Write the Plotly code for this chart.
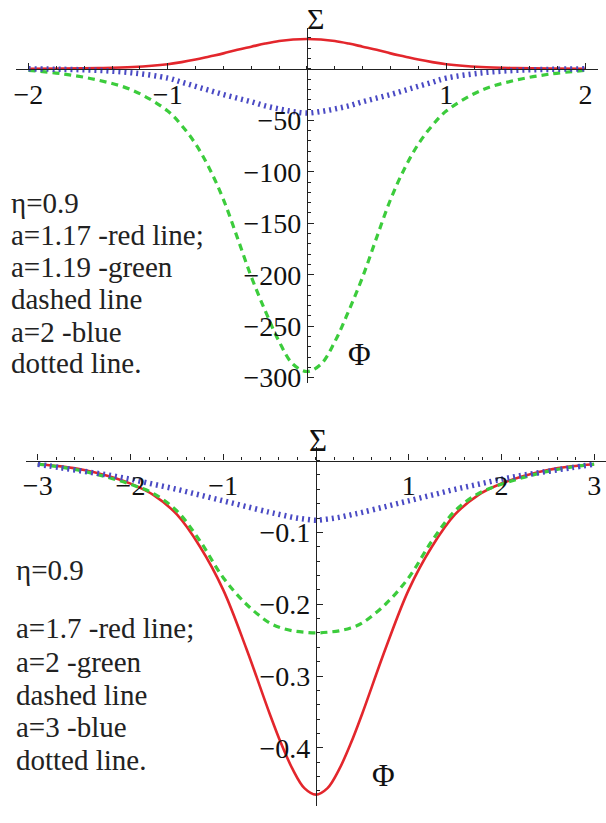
import plotly.graph_objects as go

# ---- upper panel: eta=0.9, a=1.17 / 1.19 / 2 ----
top_phi = [-2, -1.75, -1.5, -1.25, -1, -0.9, -0.8, -0.7, -0.6, -0.5, -0.4, -0.3, -0.2, -0.1, 0,
           0.1, 0.2, 0.3, 0.4, 0.5, 0.6, 0.7, 0.8, 0.9, 1, 1.25, 1.5, 1.75, 2]
top_red = [0, 0.2, 0.7, 1.8, 4.5, 6.5, 9, 12, 15, 18.5, 21.5, 24.5, 27, 28.5, 29,
           28.5, 27, 24.5, 21.5, 18.5, 15, 12, 9, 6.5, 4.5, 1.8, 0.7, 0.2, 0]
top_green = [-1.5, -5, -11, -21, -41, -55, -73, -97, -127, -164, -202, -235, -265, -287, -294,
             -287, -265, -235, -202, -164, -127, -97, -73, -55, -41, -21, -11, -5, -1.5]
top_blue = [0, -0.5, -1.5, -4, -9, -13, -17, -21, -25, -28.5, -32, -36, -39, -41.5, -43,
            -41.5, -39, -36, -32, -28.5, -25, -21, -17, -13, -9, -4, -1.5, -0.5, 0]

top_xticks = [-2, -1, 1, 2]
top_xlabels = ["\u22122", "\u22121", "1", "2"]
top_yticks = [-300, -250, -200, -150, -100, -50]
top_ylabels = ["\u2212300", "\u2212250", "\u2212200", "\u2212150", "\u2212100", "\u221250"]
top_text = ["\u03b7=0.9", "a=1.17 -red line;", "a=1.19 -green", "dashed line",
            "a=2 -blue", "dotted line."]

# ---- lower panel: eta=0.9, a=1.7 / 2 / 3 ----
bot_phi = [-3, -2.75, -2.5, -2.25, -2, -1.75, -1.5, -1.25, -1, -0.75, -0.5, -0.375, -0.25, -0.125, 0,
           0.125, 0.25, 0.375, 0.5, 0.75, 1, 1.25, 1.5, 1.75, 2, 2.25, 2.5, 2.75, 3]
bot_red = [-0.005, -0.008, -0.013, -0.021, -0.032, -0.048, -0.075, -0.12, -0.18, -0.262, -0.352, -0.394, -0.43, -0.456, -0.465,
           -0.456, -0.43, -0.394, -0.352, -0.262, -0.18, -0.12, -0.075, -0.048, -0.032, -0.021, -0.013, -0.008, -0.005]
bot_green = [-0.005, -0.009, -0.015, -0.023, -0.033, -0.046, -0.07, -0.112, -0.163, -0.2, -0.226, -0.233, -0.237, -0.239, -0.24,
             -0.239, -0.237, -0.233, -0.226, -0.2, -0.163, -0.112, -0.07, -0.046, -0.033, -0.023, -0.015, -0.009, -0.005]
bot_blue = [-0.005, -0.01, -0.015, -0.02, -0.026, -0.033, -0.04, -0.048, -0.056, -0.064, -0.072, -0.0755, -0.079, -0.0815, -0.083,
            -0.0815, -0.079, -0.0755, -0.072, -0.064, -0.056, -0.048, -0.04, -0.033, -0.026, -0.02, -0.015, -0.01, -0.005]

bot_xticks = [-3, -2, -1, 1, 2, 3]
bot_xlabels = ["\u22123", "\u22122", "\u22121", "1", "2", "3"]
bot_yticks = [-0.4, -0.3, -0.2, -0.1]
bot_ylabels = ["\u22120.4", "\u22120.3", "\u22120.2", "\u22120.1"]
bot_text = ["\u03b7=0.9", "a=1.7 -red line;", "a=2 -green", "dashed line",
            "a=3 -blue", "dotted line."]

W, H = 606, 823
SERIF = "Liberation Serif"
RED, GREEN, BLUE = "#e3262c", "#3ccc3c", "#4a4ac4"

# panel geometry (paper fractions)
top_xrange, top_yrange = [-2.09, 2.09], [-305, 40]
top_xdom, top_ydom = [13 / W, 598 / W], [1 - 388 / H, 1 - 28 / H]
bot_xrange, bot_yrange = [-3.128, 3.128], [-0.481, 0.019]
bot_xdom, bot_ydom = [23 / W, 1.0], [1 - 817 / H, 1 - 453 / H]


def zero_pos(dom, rng):
    # paper position of the data value 0 along an axis
    return dom[0] + (0 - rng[0]) / (rng[1] - rng[0]) * (dom[1] - dom[0])


fig = go.Figure()

styles = [("red", RED, "solid", 2.6), ("green", GREEN, "7px,5px", 3.2), ("blue", BLUE, "2px,4px", 5.5)]
for (name, col, dash, w), ys in zip(styles, [top_red, top_green, top_blue]):
    fig.add_trace(go.Scatter(x=top_phi, y=ys, mode="lines", name=name, xaxis="x", yaxis="y",
                             line=dict(color=col, dash=dash, width=w, shape="spline")))
for (name, col, dash, w), ys in zip(styles, [bot_red, bot_green, bot_blue]):
    fig.add_trace(go.Scatter(x=bot_phi, y=ys, mode="lines", name=name, xaxis="x2", yaxis="y2",
                             line=dict(color=col, dash=dash, width=w, shape="spline")))

axis_common = dict(showgrid=False, zeroline=False, showline=True, linecolor="#222", linewidth=1.2,
                   ticks="inside", ticklen=6, tickwidth=1.2, tickcolor="#222",
                   tickfont=dict(family=SERIF, size=28, color="#111"), fixedrange=True)


def xaxis(dom, rng, ydom, yrng, vals, labels, mdt):
    return dict(domain=dom, range=rng, anchor="free", position=zero_pos(ydom, yrng), side="bottom",
                tickmode="array", tickvals=vals, ticktext=labels,
                minor=dict(tickmode="linear", tick0=0, dtick=mdt, ticks="inside", ticklen=3,
                           tickwidth=1, tickcolor="#222"),
                **axis_common)


def yaxis(dom, rng, xdom, xrng, vals, labels, mdt):
    return dict(domain=dom, range=rng, anchor="free", position=zero_pos(xdom, xrng), side="left",
                tickmode="array", tickvals=vals, ticktext=labels,
                minor=dict(tickmode="linear", tick0=0, dtick=mdt, ticks="inside", ticklen=3,
                           tickwidth=1, tickcolor="#222"),
                **axis_common)


fig.update_layout(
    width=W, height=H, margin=dict(l=0, r=0, t=0, b=0),
    paper_bgcolor="white", plot_bgcolor="white", showlegend=False,
    xaxis=xaxis(top_xdom, top_xrange, top_ydom, top_yrange, top_xticks, top_xlabels, 0.2),
    yaxis=yaxis(top_ydom, top_yrange, top_xdom, top_xrange, top_yticks, top_ylabels, 10),
    xaxis2=xaxis(bot_xdom, bot_xrange, bot_ydom, bot_yrange, bot_xticks, bot_xlabels, 0.2),
    yaxis2=yaxis(bot_ydom, bot_yrange, bot_xdom, bot_xrange, bot_yticks, bot_ylabels, 0.02),
)

# axis names Sigma / Phi
fig.add_annotation(x=314 / W, y=1, xref="paper", yref="paper", text="\u03a3", showarrow=False,
                   xanchor="center", yanchor="top", font=dict(family=SERIF, size=30, color="#111"))
for px, py, txt in [(358, 359, "\u03a6"), (317, 446, "\u03a3"), (382, 786, "\u03a6")]:
    fig.add_annotation(x=px / W, y=1 - py / H, xref="paper", yref="paper", text=txt, showarrow=False,
                       xanchor="center", yanchor="middle", font=dict(family=SERIF, size=31, color="#111"))

# parameter notes, one annotation per line
for lines, left, rows in [(top_text, 6, [206, 238, 271, 303, 336, 368]),
                          (bot_text, 11, [578, 637, 671, 704, 737, 770])]:
    for txt, py in zip(lines, rows):
        fig.add_annotation(x=left / W, y=1 - py / H, xref="paper", yref="paper", text=txt,
                           showarrow=False, xanchor="left", yanchor="middle",
                           font=dict(family=SERIF, size=29, color="#222"))

# drop the browser's default 8px body margin so the figure fills the window exactly
fig.write_html("out.html", config={"displayModeBar": False},
               post_script="document.body.style.margin='0';")
